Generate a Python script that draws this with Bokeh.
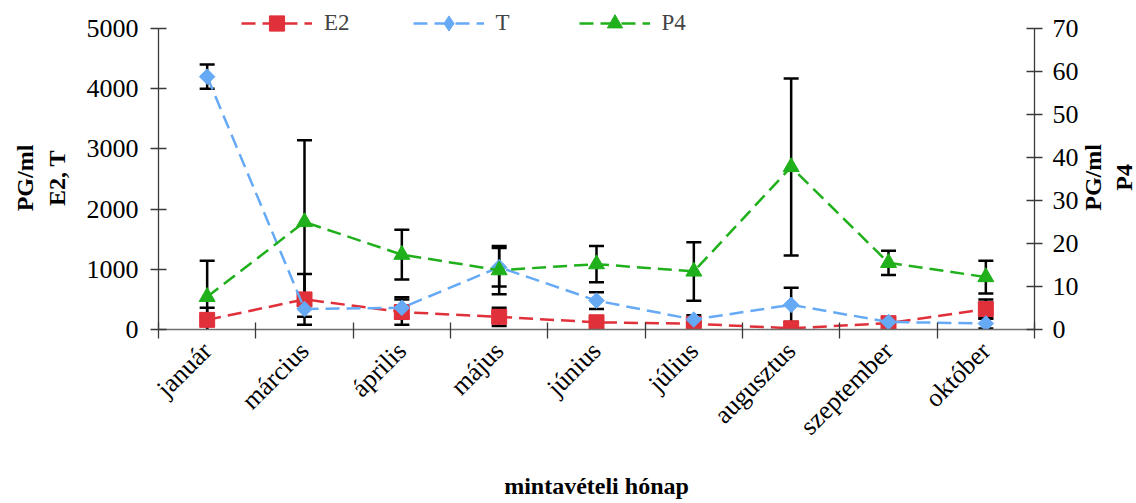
import numpy as np
from bokeh.plotting import figure
from bokeh.layouts import row
from bokeh.models import (Range1d, LinearAxis, FixedTicker, Whisker, TeeHead,
                          ColumnDataSource, Legend, LegendItem, Label)
from bokeh.embed import file_html
from bokeh.resources import INLINE

# Sampling months and hormone concentrations (pg/ml)
months = ["január", "március", "április", "május", "június",
          "július", "augusztus", "szeptember", "október"]
e2 = [160, 500, 290, 210, 120, 95, 20, 105, 340]
e2_err = [200, 420, 210, 150, 50, 30, 20, 30, 160]
t = [4200, 340, 360, 1035, 480, 165, 410, 125, 100]
t_err = [200, 130, 175, 320, 140, 70, 285, 30, 85]
p4 = [7.6, 25.0, 17.4, 13.8, 15.2, 13.5, 37.8, 15.5, 12.2]
p4_err = [8.4, 19.0, 5.8, 5.6, 4.2, 6.8, 20.6, 2.8, 3.8]

left_ticks = [0, 1000, 2000, 3000, 4000, 5000]
right_ticks = [0, 10, 20, 30, 40, 50, 60, 70]

RED = "#E0303A"
BLUE = "#66AAF6"
GREEN = "#20B01C"
FONT = "Liberation Serif"
NB = "\u00a0" * 4      # pads the vertical title so it sits centred on the axis line

# plot area: axes run from 0 to their top tick, with free room above for the key
FRAME_H = 327          # frame height in px
AXIS_H = 301           # height of the drawn axis lines in px
LEFT_MAX, RIGHT_MAX = 5000, 70
MAIN_W, SIDE_W, H = 1081, 55, 503

x = np.arange(len(months)) + 0.5

p = figure(width=MAIN_W, height=H, output_backend="svg", toolbar_location=None,
           x_range=Range1d(0, len(months)),
           y_range=Range1d(0, LEFT_MAX * FRAME_H / AXIS_H),
           min_border_left=158, min_border_right=46,
           min_border_top=H - 174 - FRAME_H, min_border_bottom=174)
p.extra_y_ranges = {"p4": Range1d(0, RIGHT_MAX * FRAME_H / AXIS_H)}
p.outline_line_color = None
p.xgrid.visible = False
p.ygrid.visible = False
p.background_fill_color = "white"
p.border_fill_color = "white"


def style_axis(ax, color):
    ax.axis_line_color = color
    ax.axis_line_width = 1.3
    ax.major_tick_line_color = color
    ax.major_tick_line_width = 1.3
    ax.minor_tick_line_color = None
    ax.major_tick_in = 8
    ax.major_tick_out = 8
    ax.major_label_text_font = FONT
    ax.major_label_text_font_size = "26px"
    ax.major_label_text_color = "black"
    ax.axis_label_text_font = FONT
    ax.axis_label_text_font_size = "24px"
    ax.axis_label_text_font_style = "bold"
    ax.axis_label_text_color = "black"


# left axis (E2, T)
yl = p.yaxis[0]
yl.ticker = FixedTicker(ticks=left_ticks)
yl.bounds = (0, LEFT_MAX)
style_axis(yl, "#3a3a3a")
yl.major_label_standoff = 12
yl.axis_label = "PG/ml" + NB + "\nE2, T" + NB
yl.axis_label_standoff = 14

# right axis (P4)
yr = LinearAxis(y_range_name="p4", ticker=FixedTicker(ticks=right_ticks),
                bounds=(0, RIGHT_MAX))
style_axis(yr, "#3a3a3a")
yr.major_label_standoff = 10
p.add_layout(yr, "right")

# month axis: labels at the centres, tick marks at the boundaries
xa = p.xaxis[0]
xa.ticker = FixedTicker(ticks=list(x), minor_ticks=list(range(len(months) + 1)))
xa.major_label_overrides = {float(v): m for v, m in zip(x, months)}
style_axis(xa, "#6e6e6e")
xa.major_tick_line_color = None
xa.minor_tick_line_color = "#3a3a3a"
xa.minor_tick_line_width = 1.3
xa.minor_tick_in = 7
xa.minor_tick_out = 9
xa.major_label_orientation = np.pi / 4
xa.major_label_standoff = 8
xa.axis_label = "mintavételi hónap"
xa.axis_label_standoff = 19


# error bars
def whisker(vals, errs, range_name):
    src = ColumnDataSource(dict(x=x, upper=np.array(vals) + np.array(errs),
                                lower=np.array(vals) - np.array(errs)))
    w = Whisker(source=src, base="x", upper="upper", lower="lower",
                line_color="black", line_width=2.5, level="underlay",
                upper_head=TeeHead(size=15, line_color="black", line_width=2.5),
                lower_head=TeeHead(size=15, line_color="black", line_width=2.5))
    if range_name:
        w.y_range_name = range_name
    p.add_layout(w)


whisker(e2, e2_err, None)
whisker(t, t_err, None)
whisker(p4, p4_err, "p4")

DASH = "14 7"
l_e2 = p.line(x, e2, line_color=RED, line_width=2.5, line_dash=DASH)
m_e2 = p.scatter(x, e2, marker="square", size=15, fill_color=RED, line_color=RED)
l_t = p.line(x, t, line_color=BLUE, line_width=2.5, line_dash=DASH)
# small diamond under each T marker: it supplies the diamond key symbol
k_t = p.scatter(x, t, marker="diamond", size=8, fill_color=BLUE, line_color=BLUE)
m_t = p.scatter(x, t, marker="square", angle=np.pi / 4, size=11,
                fill_color=BLUE, line_color=BLUE)
l_p4 = p.line(x, p4, line_color=GREEN, line_width=2.5, line_dash=DASH,
              y_range_name="p4")
m_p4 = p.scatter(x, p4, marker="triangle", size=16, fill_color=GREEN,
                 line_color=GREEN, y_range_name="p4")

legend = Legend(items=[LegendItem(label="E2", renderers=[l_e2, m_e2]),
                       LegendItem(label="T", renderers=[l_t, k_t]),
                       LegendItem(label="P4", renderers=[l_p4, m_p4])],
                orientation="horizontal", location=(83, 287),
                glyph_width=71, glyph_height=38, label_standoff=12,
                spacing=63, padding=0, margin=0,
                label_text_font=FONT, label_text_font_size="23px",
                background_fill_alpha=0, border_line_color=None)
p.add_layout(legend)

# title strip for the P4 axis, reading upwards like the left title
side = figure(width=SIDE_W, height=H, output_backend="svg", toolbar_location=None,
              x_range=Range1d(0, SIDE_W), y_range=Range1d(0, H),
              x_axis_location=None, y_axis_location=None,
              min_border=0, outline_line_color=None)
side.grid.visible = False
side.add_layout(Label(x=27, y=234, text="PG/ml\nP4", angle=np.pi / 2,
                      text_font=FONT, text_font_size="24px", text_font_style="bold",
                      text_color="black", text_align="center",
                      text_baseline="middle"))

layout = row(p, side, spacing=0)
open("out.html", "w").write(file_html(layout, INLINE))
